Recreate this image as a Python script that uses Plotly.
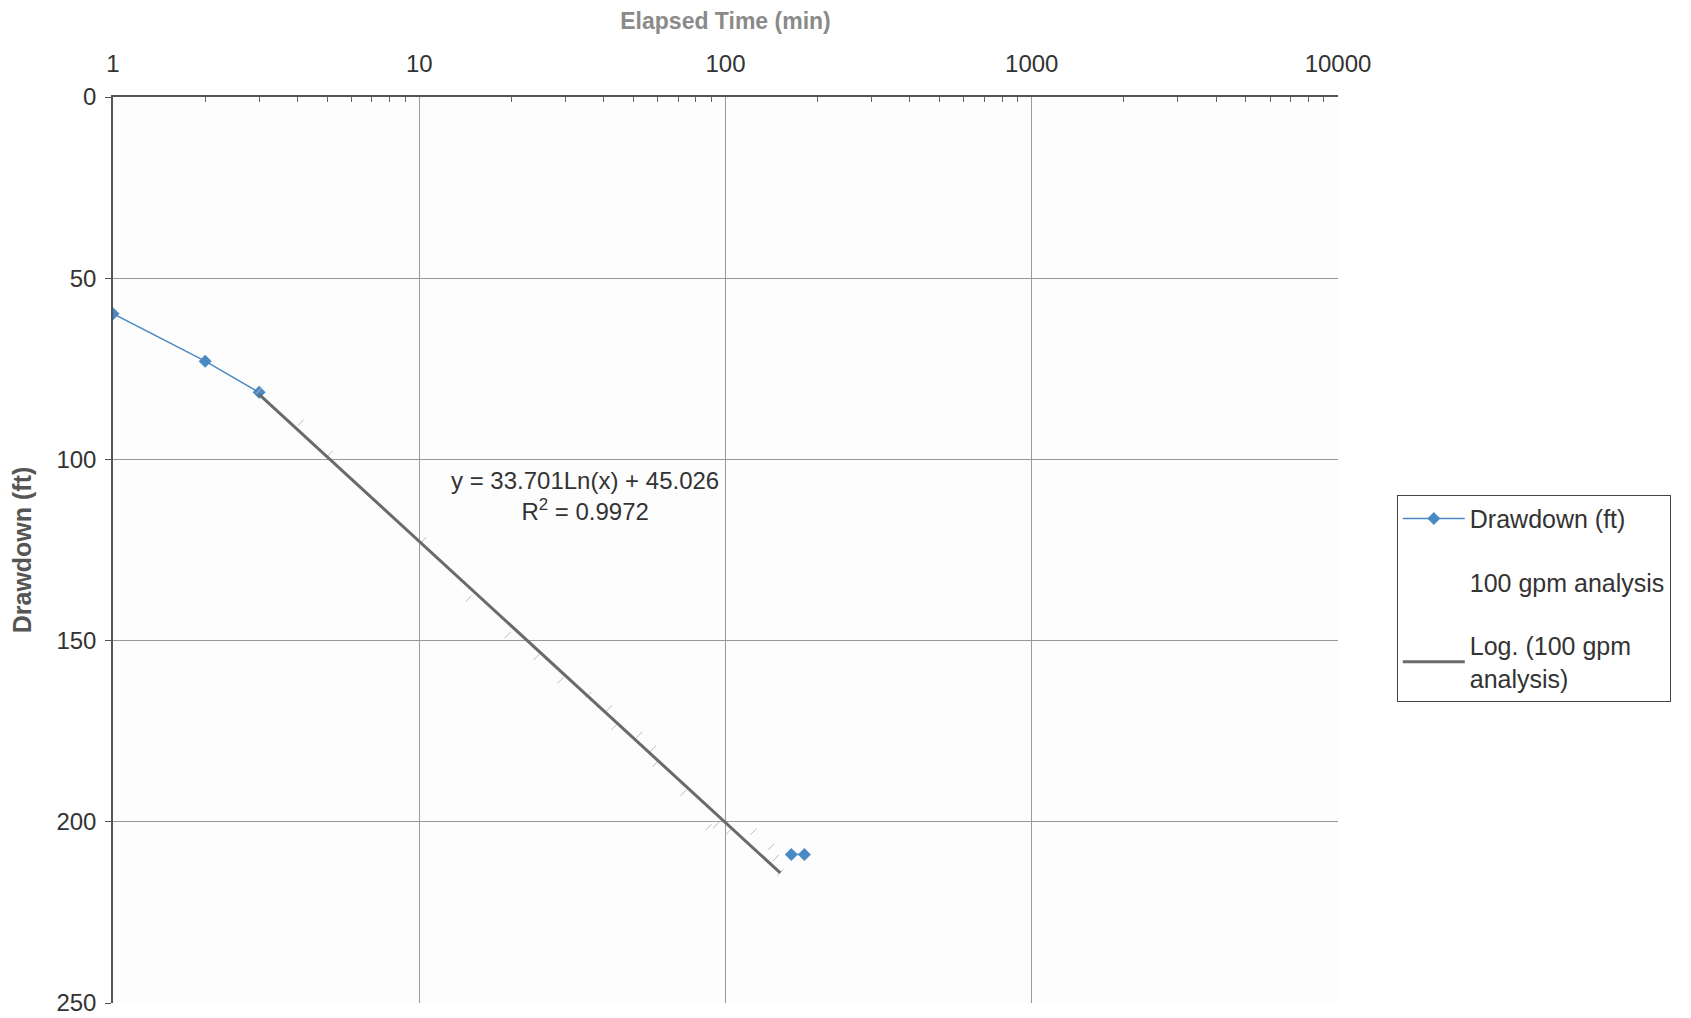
import numpy as np
import plotly.graph_objects as go

# Drawdown (ft) series (visible blue line + diamonds)
draw_t1 = [1, 2, 3]
draw_d1 = [59.8, 72.9, 81.5]
draw_t2 = [164, 181]
draw_d2 = [209, 209]

# 100 gpm analysis points (faint, no visible markers)
gpm_t = [3.0, 4.1, 5.1, 10.3, 14.5, 19.4, 24.2, 28.9, 35.7, 41.7, 43.4, 52.3, 58.1,
         59.0, 72.9, 87.9, 93.0, 102.5, 123.5, 140.7, 146.0, 151.0]
gpm_d = [81.0, 89.9, 98.5, 122.3, 138.4, 148.5, 154.5, 161.0, 165.0, 168.7, 173.8, 176.0,
         179.8, 184.0, 192.0, 201.5, 201.0, 202.7, 202.7, 207.0, 210.0, 214.0]

# Logarithmic trendline coefficients and extent
trend_a = 33.701
trend_b = 45.026
trend_r2 = 0.9972
trend_t_range = [3, 151]

x_ticks = [1, 10, 100, 1000, 10000]
y_ticks = [0, 50, 100, 150, 200, 250]
x_minor = [m * d for d in [1, 10, 100, 1000] for m in range(2, 10)]

trend_t = np.logspace(np.log10(trend_t_range[0]), np.log10(trend_t_range[1]), 60)
trend_d = trend_a * np.log(trend_t) + trend_b

blue = "#4a8ac4"
font_fam = "Liberation Sans, Arial, sans-serif"

fig = go.Figure()
fig.add_trace(go.Scatter(
    x=draw_t1 + [None] + draw_t2, y=draw_d1 + [None] + draw_d2,
    mode="lines+markers", name="Drawdown (ft)", legendgroup="a",
    line=dict(color=blue, width=1.5),
    marker=dict(symbol="diamond", size=10, color=blue),
    connectgaps=False,
))
fig.add_trace(go.Scatter(
    x=gpm_t, y=gpm_d, mode="markers", name="100 gpm analysis", showlegend=False,
    marker=dict(symbol="line-ne", size=6, line=dict(color="#bbbbbb", width=1)),
))
fig.add_trace(go.Scatter(
    x=[None], y=[None], mode="markers", name="100 gpm analysis", legendgroup="b",
    marker=dict(color="rgba(0,0,0,0)", size=1),
))
fig.add_trace(go.Scatter(
    x=trend_t, y=trend_d, mode="lines", name="Log. (100 gpm<br>analysis)", legendgroup="c",
    line=dict(color="#6a6a6a", width=3),
))

fig.add_annotation(
    x=np.log10(34.8), y=110, xref="x", yref="y",
    text=f"y = {trend_a}Ln(x) + {trend_b}<br>R<sup>2</sup> = {trend_r2}",
    showarrow=False, font=dict(size=24, color="#333333", family=font_fam),
    align="center",
)

fig.update_layout(
    width=1691, height=1018,
    margin=dict(l=105, r=361, t=89, b=23),
    paper_bgcolor="white", plot_bgcolor="#fdfdfd",
    font=dict(family=font_fam, color="#333333", size=24),
    legend=dict(
        x=1.048, y=0.561, xanchor="left", yanchor="top",
        bordercolor="#444444", borderwidth=1, bgcolor="white",
        font=dict(size=25, color="#333333"), tracegroupgap=28,
        itemwidth=62,
    ),
    xaxis=dict(
        type="log", side="top", range=[0, 4], automargin=False,
        tickvals=x_ticks, ticktext=[str(v) for v in x_ticks],
        tickfont=dict(size=24, color="#333333"),
        showgrid=True, gridcolor="#999999", gridwidth=1,
        showline=True, linecolor="#555555", linewidth=1.5,
        ticks="", ticklabelstandoff=14,
        minor=dict(tickvals=x_minor, ticks="inside", ticklen=5, tickcolor="#666666", showgrid=False),
        title=dict(text="<b>Elapsed Time (min)</b>", font=dict(size=23, color="#8a8a8a"), standoff=16),
        zeroline=False,
    ),
    yaxis=dict(
        range=[250, 0], tickvals=y_ticks, automargin=False,
        tickfont=dict(size=24, color="#333333"),
        showgrid=True, gridcolor="#999999", gridwidth=1,
        showline=True, linecolor="#555555", linewidth=1.5,
        ticks="outside", ticklen=6, tickcolor="#555555", ticklabelstandoff=4,
        title=dict(text="<b>Drawdown (ft)</b>", font=dict(size=25, color="#555555"), standoff=18),
        zeroline=False,
    ),
)

fig.write_html("out.html")
